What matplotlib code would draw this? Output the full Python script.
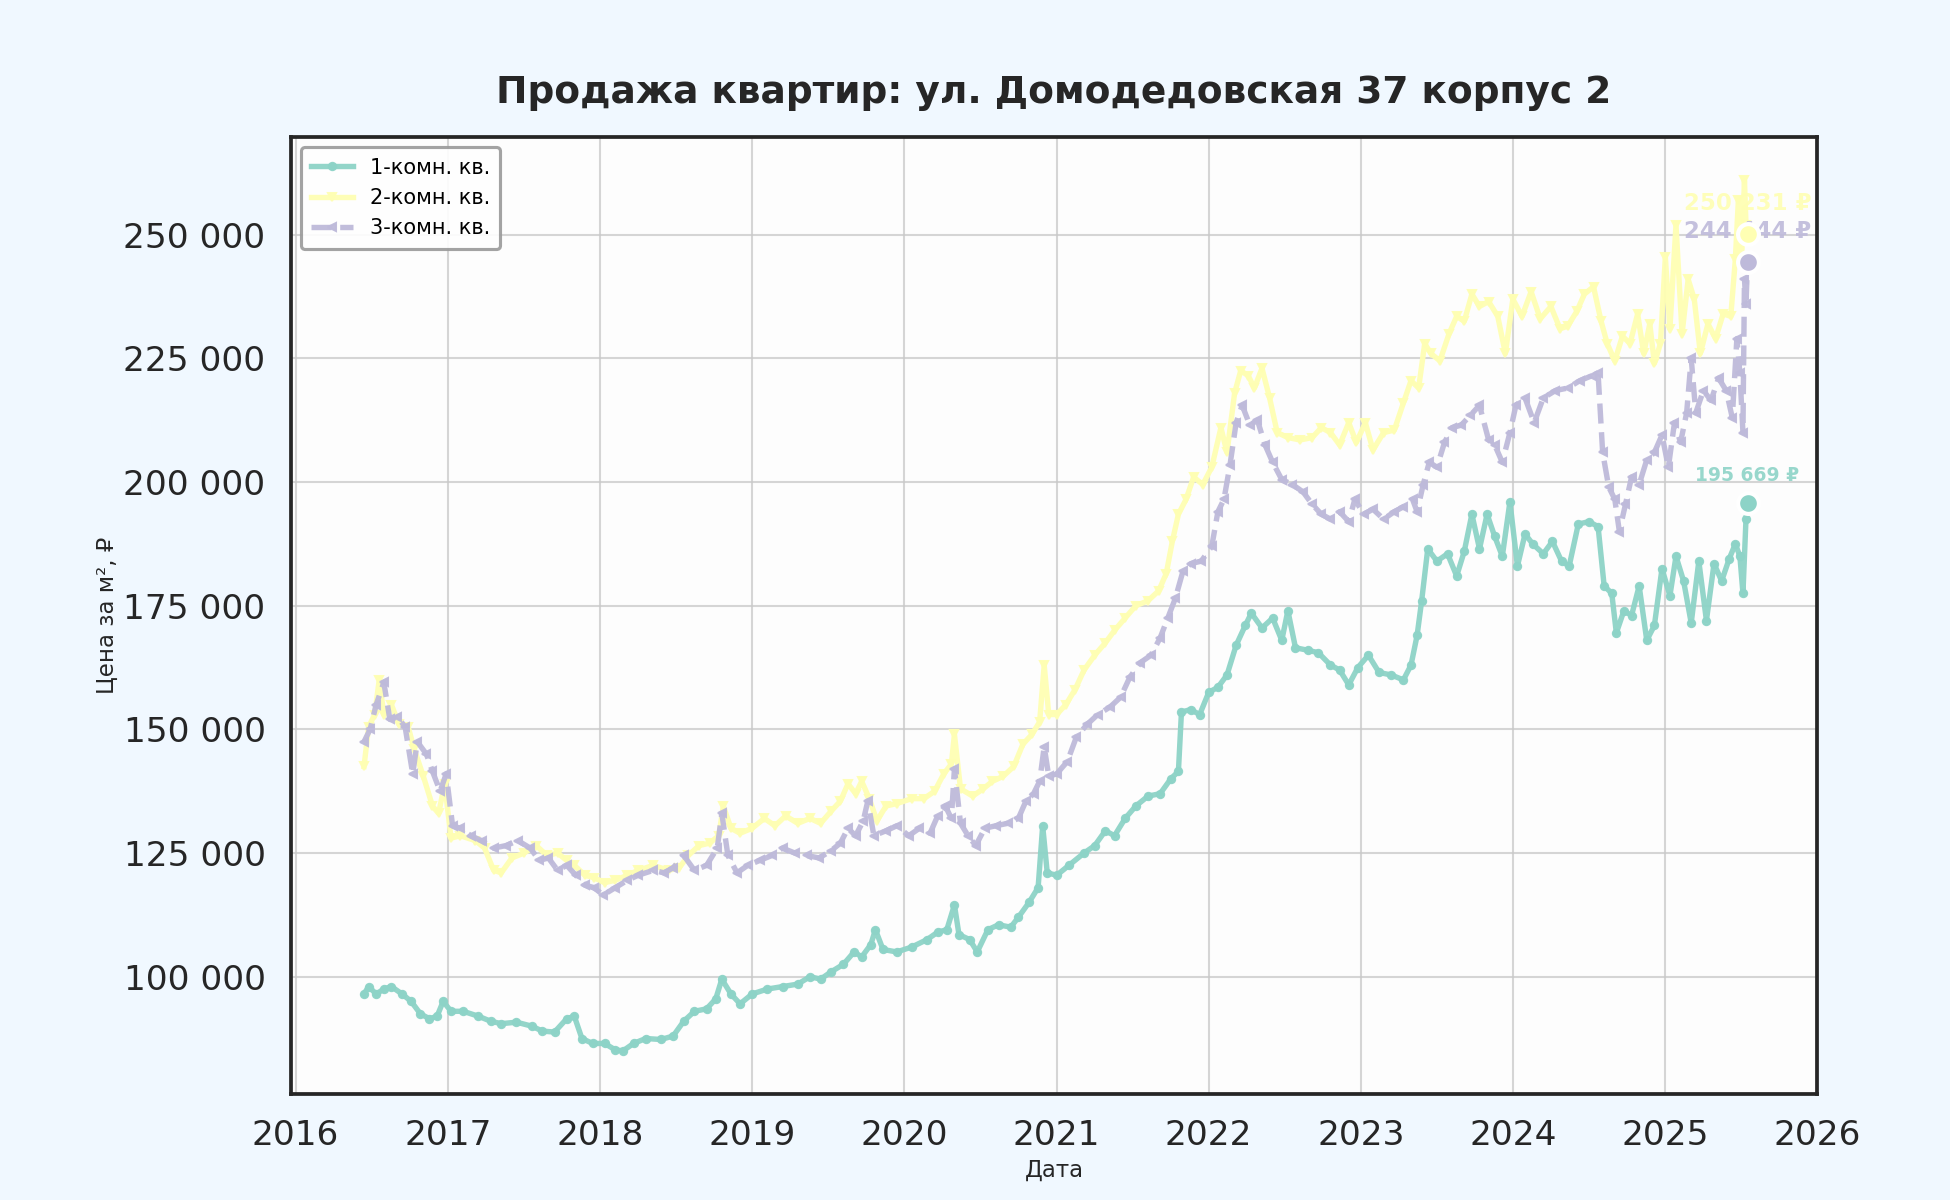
import datetime as dt
import matplotlib
matplotlib.use("Agg")
import matplotlib.pyplot as plt
import matplotlib.dates as mdates
from matplotlib.ticker import FuncFormatter

# ---------------- data ----------------
title = "Продажа квартир: ул. Домодедовская 37 корпус 2"
series_names = ["1-комн. кв.", "2-комн. кв.", "3-комн. кв."]

t1 = [2016.45, 2016.48, 2016.53, 2016.58, 2016.63, 2016.70, 2016.76, 2016.82, 2016.88, 2016.93,
      2016.97, 2017.02, 2017.10, 2017.20, 2017.28, 2017.35, 2017.45, 2017.55, 2017.62, 2017.70,
      2017.78, 2017.83, 2017.88, 2017.95, 2018.03, 2018.10, 2018.15, 2018.22, 2018.30, 2018.40,
      2018.48, 2018.55, 2018.62, 2018.70, 2018.76, 2018.80, 2018.86, 2018.92, 2019.00, 2019.10,
      2019.20, 2019.30, 2019.38, 2019.45, 2019.52, 2019.60, 2019.67, 2019.72, 2019.78, 2019.81,
      2019.86, 2019.95, 2020.05, 2020.15, 2020.22, 2020.28, 2020.33, 2020.36, 2020.43, 2020.48,
      2020.55, 2020.62, 2020.70, 2020.75, 2020.82, 2020.88, 2020.91, 2020.94, 2021.00, 2021.08,
      2021.18, 2021.25, 2021.32, 2021.38, 2021.45, 2021.52, 2021.60, 2021.68, 2021.75, 2021.80,
      2021.82, 2021.88, 2021.94, 2022.00, 2022.06, 2022.12, 2022.18, 2022.24, 2022.28, 2022.35,
      2022.42, 2022.48, 2022.52, 2022.57, 2022.65, 2022.72, 2022.80, 2022.86, 2022.92, 2022.98,
      2023.05, 2023.12, 2023.20, 2023.28, 2023.33, 2023.37, 2023.40, 2023.44, 2023.50, 2023.57,
      2023.63, 2023.68, 2023.73, 2023.78, 2023.83, 2023.88, 2023.93, 2023.98, 2024.03, 2024.08,
      2024.13, 2024.20, 2024.26, 2024.32, 2024.37, 2024.43, 2024.50, 2024.56, 2024.60, 2024.65,
      2024.68, 2024.73, 2024.78, 2024.83, 2024.88, 2024.93, 2024.98, 2025.03, 2025.07, 2025.12,
      2025.17, 2025.22, 2025.27, 2025.32, 2025.37, 2025.42, 2025.46, 2025.49, 2025.51, 2025.53,
      2025.54]
v1 = [96500, 98000, 96500, 97500, 98000, 96500, 95000, 92500, 91500, 92000,
      95000, 93000, 93000, 92000, 91000, 90500, 90800, 90000, 89000, 88800,
      91500, 92000, 87500, 86500, 86500, 85200, 85000, 86500, 87500, 87300,
      88000, 91000, 93000, 93500, 95500, 99500, 96500, 94500, 96500, 97500,
      98000, 98500, 100000, 99500, 101000, 102500, 105000, 104000, 106500, 109500,
      105500, 105000, 106000, 107500, 109000, 109500, 114500, 108500, 107500, 105000,
      109500, 110500, 110000, 112000, 115000, 118000, 130500, 121000, 120500, 122500,
      125000, 126500, 129500, 128500, 132000, 134500, 136500, 137000, 140000, 141500,
      153500, 154000, 153000, 157500, 158500, 161000, 167000, 171000, 173500, 170500,
      172500, 168000, 174000, 166500, 166000, 165500, 163000, 162000, 159000, 162500,
      165000, 161500, 161000, 160000, 163000, 169000, 176000, 186500, 184000, 185500,
      181000, 186000, 193500, 186500, 193500, 189000, 185000, 196000, 183000, 189500,
      187500, 185500, 188000, 184000, 183000, 191500, 192000, 191000, 179000, 177500,
      169500, 174000, 173000, 179000, 168000, 171000, 182500, 177000, 185000, 180000,
      171500, 184000, 172000, 183500, 180000, 184500, 187500, 185000, 177500, 192500,
      195669]

t2 = [2016.45, 2016.48, 2016.52, 2016.55, 2016.58, 2016.63, 2016.68, 2016.74, 2016.78, 2016.84,
      2016.90, 2016.94, 2016.98, 2017.02, 2017.08, 2017.18, 2017.24, 2017.30, 2017.35, 2017.42,
      2017.50, 2017.58, 2017.65, 2017.72, 2017.78, 2017.83, 2017.90, 2017.96, 2018.03, 2018.10,
      2018.18, 2018.25, 2018.35, 2018.45, 2018.52, 2018.58, 2018.65, 2018.72, 2018.78, 2018.81,
      2018.86, 2018.92, 2019.00, 2019.08, 2019.15, 2019.22, 2019.30, 2019.38, 2019.45, 2019.52,
      2019.58, 2019.63, 2019.68, 2019.72, 2019.77, 2019.82, 2019.88, 2019.95, 2020.05, 2020.13,
      2020.20, 2020.26, 2020.31, 2020.33, 2020.37, 2020.45, 2020.52, 2020.58, 2020.65, 2020.72,
      2020.78, 2020.84, 2020.89, 2020.92, 2020.95, 2021.00, 2021.06, 2021.12, 2021.18, 2021.25,
      2021.32, 2021.38, 2021.45, 2021.52, 2021.60, 2021.67, 2021.72, 2021.76, 2021.80, 2021.85,
      2021.90, 2021.96, 2022.02, 2022.08, 2022.12, 2022.17, 2022.21, 2022.26, 2022.30, 2022.35,
      2022.40, 2022.45, 2022.52, 2022.60, 2022.68, 2022.74, 2022.80, 2022.86, 2022.92, 2022.97,
      2023.03, 2023.08, 2023.15, 2023.22, 2023.28, 2023.33, 2023.38, 2023.42, 2023.46, 2023.52,
      2023.58, 2023.63, 2023.68, 2023.73, 2023.78, 2023.84, 2023.90, 2023.95, 2024.00, 2024.06,
      2024.12, 2024.18, 2024.25, 2024.31, 2024.36, 2024.42, 2024.47, 2024.53, 2024.58, 2024.62,
      2024.67, 2024.72, 2024.77, 2024.82, 2024.86, 2024.90, 2024.93, 2024.97, 2025.00, 2025.03,
      2025.07, 2025.11, 2025.15, 2025.19, 2025.23, 2025.28, 2025.33, 2025.38, 2025.43, 2025.46,
      2025.48, 2025.50, 2025.52, 2025.53, 2025.54]
v2 = [142500, 150500, 153000, 160000, 153000, 155000, 151000, 150500, 146000, 140500,
      134500, 133000, 139000, 128000, 128500, 127500, 126000, 121500, 121000, 124000,
      125000, 126500, 124500, 125000, 123500, 122500, 120500, 120000, 119000, 119500,
      120500, 121500, 122500, 121500, 122000, 124500, 126500, 127000, 128500, 134500,
      130000, 129000, 130000, 132000, 130500, 132500, 131000, 132000, 131000, 133500,
      135500, 139000, 137000, 139500, 136000, 131500, 134500, 135000, 136000, 136000,
      137500, 141000, 143000, 149000, 138000, 136500, 138000, 139500, 140500, 142500,
      147000, 149000, 151500, 163000, 153000, 153000, 155000, 158000, 162000, 165000,
      167500, 170000, 172500, 175000, 176000, 178000, 181500, 188000, 193500, 196500,
      201000, 199500, 203000, 211000, 206000, 218000, 222500, 221500, 219000, 223000,
      217000, 210000, 209000, 208500, 209000, 211000, 210000, 207500, 212000, 208000,
      212000, 206500, 210000, 210500, 216000, 220500, 219000, 228000, 226000, 224500,
      230000, 233500, 232500, 238000, 235500, 236500, 233500, 226000, 237000, 233500,
      238500, 233000, 235500, 231000, 231500, 234500, 238000, 239500, 232500, 228000,
      224500, 229500, 228000, 234000, 226000, 232000, 224000, 228000, 245500, 231000,
      252000, 230000, 241000, 237000, 226000, 232000, 229000, 234000, 233500, 245000,
      257000, 244000, 261000, 252000, 250231]

t3 = [2016.45, 2016.49, 2016.53, 2016.58, 2016.62, 2016.67, 2016.72, 2016.77, 2016.80, 2016.86,
      2016.90, 2016.95, 2016.99, 2017.03, 2017.08, 2017.15, 2017.22, 2017.30, 2017.38, 2017.46,
      2017.54, 2017.60, 2017.66, 2017.72, 2017.78, 2017.84, 2017.90, 2017.96, 2018.02, 2018.10,
      2018.18, 2018.25, 2018.35, 2018.42, 2018.48, 2018.55, 2018.62, 2018.70, 2018.77, 2018.80,
      2018.84, 2018.90, 2018.97, 2019.05, 2019.13, 2019.20, 2019.28, 2019.36, 2019.44, 2019.52,
      2019.58, 2019.63, 2019.68, 2019.73, 2019.76, 2019.80, 2019.88, 2019.95, 2020.03, 2020.10,
      2020.17, 2020.22, 2020.27, 2020.31, 2020.33, 2020.37, 2020.42, 2020.47, 2020.53, 2020.60,
      2020.68, 2020.75, 2020.80, 2020.85, 2020.89, 2020.92, 2020.95, 2021.00, 2021.07, 2021.13,
      2021.20, 2021.27, 2021.35, 2021.42, 2021.48, 2021.55, 2021.62, 2021.68, 2021.73, 2021.78,
      2021.83, 2021.88, 2021.95, 2022.02, 2022.06, 2022.10, 2022.14, 2022.18, 2022.22, 2022.27,
      2022.32, 2022.37, 2022.42, 2022.48, 2022.55, 2022.62, 2022.68, 2022.74, 2022.80, 2022.86,
      2022.92, 2022.96, 2023.02, 2023.08, 2023.15, 2023.22, 2023.28, 2023.34, 2023.37, 2023.41,
      2023.45, 2023.50, 2023.55, 2023.60, 2023.66, 2023.72, 2023.78, 2023.84, 2023.88, 2023.93,
      2023.98, 2024.02, 2024.08, 2024.14, 2024.20, 2024.28, 2024.36, 2024.44, 2024.52, 2024.56,
      2024.59, 2024.63, 2024.67, 2024.70, 2024.74, 2024.78, 2024.83, 2024.88, 2024.93, 2024.98,
      2025.02, 2025.06, 2025.10, 2025.14, 2025.17, 2025.20, 2025.25, 2025.30, 2025.35, 2025.40,
      2025.44, 2025.47, 2025.49, 2025.51, 2025.52, 2025.53, 2025.54]
v3 = [147500, 150000, 155000, 159500, 152000, 152500, 150500, 141000, 147500, 145000,
      141500, 137500, 141000, 130500, 130000, 128500, 127500, 126000, 126500, 127500,
      126000, 123500, 124000, 121500, 122500, 120500, 118500, 118000, 116500, 118000,
      119500, 120500, 121500, 121000, 122000, 124500, 121500, 122500, 126000, 133000,
      124500, 121000, 122500, 123500, 124500, 126000, 125000, 124500, 124000, 125500,
      127000, 130000, 128500, 131500, 135500, 128500, 129500, 130500, 128500, 130000,
      129000, 132500, 134500, 132000, 142000, 131000, 128500, 126500, 130000, 130500,
      131000, 132000, 135500, 137000, 139500, 146500, 140500, 141000, 143500, 148500,
      151000, 153000, 154500, 156500, 160500, 163500, 165000, 168500, 172500, 176500,
      182000, 183500, 184000, 187000, 194000, 196500, 203500, 212000, 215500, 211500,
      212500, 207500, 204000, 200500, 199500, 198000, 195500, 193500, 192500, 194000,
      192000, 196500, 193500, 194500, 192500, 194000, 195000, 196500, 194000, 199500,
      204000, 203000, 208000, 211000, 211500, 213500, 215500, 208500, 207500, 204000,
      210000, 215500, 217000, 212000, 217000, 218500, 219000, 220500, 221500, 222000,
      206000, 199000, 196500, 190000, 195500, 201000, 199500, 204500, 206000, 209500,
      203000, 212000, 208000, 214000, 225000, 214000, 218500, 216500, 221000, 218500,
      213000, 229000, 222000, 210000, 241000, 236000, 244444]

x_label = "Дата"
y_label = "Цена за м², ₽"


def to_date(y):
    year = int(y)
    return dt.datetime(year, 1, 1) + dt.timedelta(days=(y - year) * 365.25)


colors = ["#8dd3c7", "#ffffb3", "#bebada"]
styles = [dict(ls="-", marker="o"), dict(ls="-", marker="v"), dict(ls="--", marker="<")]
label_sizes = [9, 11, 11]

fig = plt.figure(figsize=(13, 8), dpi=150, facecolor="#f0f8ff")
ax = fig.add_axes([0.149, 0.088, 0.783, 0.798])
ax.set_facecolor("#fdfdfd")

series = [(t1, v1), (t2, v2), (t3, v3)]
for (tt, vv), name, c, st, ls in zip(series, series_names, colors, styles, label_sizes):
    dates = [to_date(x) for x in tt]
    ax.plot(dates, vv, color=c, lw=2.6, ms=3.5, alpha=0.95, label=name, zorder=3, **st)
    ax.plot([dates[-1]], [vv[-1]], "o", color=c, ms=10, mec="white", mew=2, zorder=8)
    ax.annotate(f"{vv[-1]:,} ₽".replace(",", " "), (dates[-1], vv[-1]),
                xytext=(0, 9), textcoords="offset points", ha="center", va="bottom",
                fontsize=ls, fontweight="bold", color=c, alpha=0.9, zorder=5)

ax.set_xlim(dt.datetime(2015, 12, 20), dt.datetime(2026, 1, 1))
ax.xaxis.set_major_locator(mdates.YearLocator())
ax.xaxis.set_major_formatter(mdates.DateFormatter("%Y"))
ax.yaxis.set_major_formatter(FuncFormatter(lambda v, p: f"{int(v):,}".replace(",", " ")))

ax.grid(True, color="#c8c8c8", lw=1.0, alpha=0.75)
ax.tick_params(axis="both", labelsize=16.5, colors="#262626", length=0, pad=12)
for sp in ax.spines.values():
    sp.set_color("#262626")
    sp.set_linewidth(1.8)

ax.set_title(title, fontsize=18, fontweight="bold", color="#262626", pad=16)
ax.set_xlabel(x_label, fontsize=11, color="#262626", labelpad=3)
ax.set_ylabel(y_label, fontsize=11, color="#262626", labelpad=2)

leg = ax.legend(loc="upper left", fontsize=10, frameon=True, fancybox=True,
                edgecolor="#999999", framealpha=0.9, handlelength=2.0, borderpad=0.5)
leg.get_frame().set_linewidth(1.5)

fig.savefig("out.png", dpi=150, facecolor=fig.get_facecolor())
